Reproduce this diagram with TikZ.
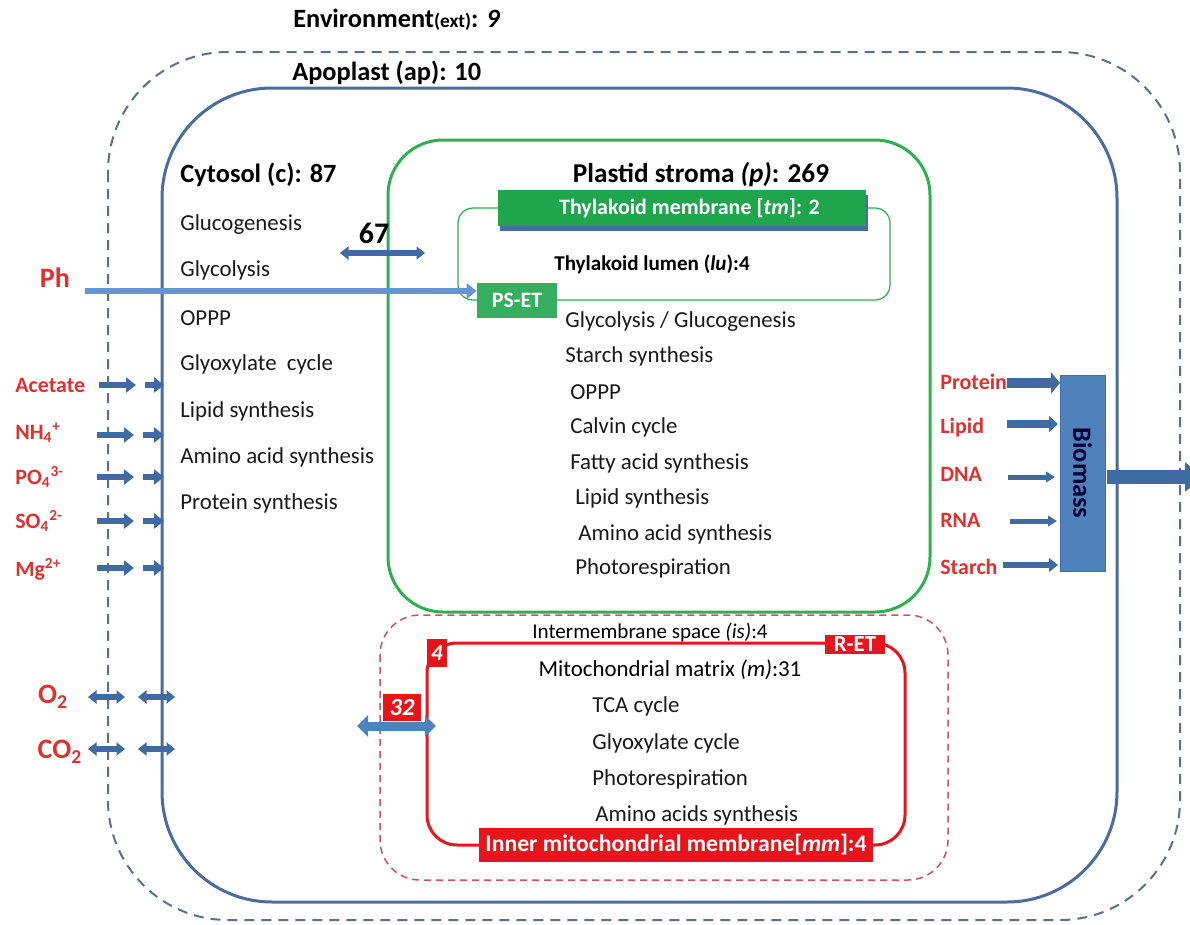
\documentclass[tikz,border=0pt]{standalone}
\usepackage{fontspec}
\setmainfont{Carlito}
\usepackage{tikz}
\usepackage{xcolor}
\definecolor{envGray}{HTML}{5B6F8F}
\definecolor{apoBlue}{HTML}{4A6C9E}
\definecolor{arrowBlue}{HTML}{3F6BA3}
\definecolor{phBlue}{HTML}{6495D6}
\definecolor{plastidGreen}{HTML}{2DB04E}
\definecolor{tmGreen}{HTML}{1FA64D}
\definecolor{mitoRed}{HTML}{E8141B}
\definecolor{mitoDash}{HTML}{D2505C}
\definecolor{labelRed}{HTML}{E2302E}
\definecolor{biomassBlue}{HTML}{4F81BD}
\usetikzlibrary{arrows.meta}

\tikzset{
  heading/.style={font=\fontsize{15}{18}\selectfont\bfseries, inner sep=0pt},
  subHeading/.style={font=\fontsize{12}{14}\selectfont\bfseries, inner sep=0pt},
  pathway/.style={font=\fontsize{13}{15}\selectfont, text=black!90, anchor=west, inner sep=0pt},
  inLabel/.style={font=\fontsize{12.5}{15}\selectfont\bfseries, text=labelRed, anchor=west, inner sep=0pt},
  gasLabel/.style={font=\fontsize{16}{18}\selectfont\bfseries, text=labelRed, inner sep=0pt},
  inArrow/.style={draw=arrowBlue, line width=0.13cm, -{Triangle[width=0.3cm,length=0.2cm]}},
  gasArrow/.style={draw=arrowBlue, line width=0.11cm, {Triangle[width=0.26cm,length=0.17cm]}-{Triangle[width=0.26cm,length=0.17cm]}},
  outArrow/.style={draw=arrowBlue, -{Triangle[width=#1*2.1,length=0.18cm]}, line width=#1},
  colourBox/.style={fill=#1, draw=none, text=white, inner sep=0pt, font=\fontsize{12.5}{14}\selectfont\bfseries}
}

\begin{document}
\begin{tikzpicture}
  \useasboundingbox (0cm,0cm) rectangle (23.8cm,-18.5cm);

  \draw[envGray, line width=0.04cm, dash pattern=on 0.2cm off 0.14cm, rounded corners=2.4cm] (2.16cm,-1.04cm) rectangle (23.6cm,-18.4cm);
  \draw[apoBlue, line width=0.06cm, rounded corners=2.2cm] (3.24cm,-1.76cm) rectangle (22.34cm,-18.04cm);
  \node[heading, anchor=west] (envHead) at (5.86cm,-0.4cm) {Environment{\fontsize{11}{13}\selectfont(ext)}: \textit{9}};
  \node[heading, anchor=west] (apoHead) at (5.84cm,-1.46cm) {Apoplast (ap): 10};

  \node[heading, anchor=west] (cytosolHead) at (3.6cm,-3.5cm) {Cytosol (c): 87};
  \node[pathway] (glucoC) at (3.6cm,-4.5cm) {Glucogenesis};
  \node[pathway] (glycoC) at (3.6cm,-5.4cm) {Glycolysis};
  \node[pathway] (opppC) at (3.6cm,-6.36cm) {OPPP};
  \node[pathway] (glyoxC) at (3.6cm,-7.28cm) {Glyoxylate\ \ cycle};
  \node[pathway] (lipidC) at (3.6cm,-8.22cm) {Lipid synthesis};
  \node[pathway] (aminoC) at (3.6cm,-9.14cm) {Amino acid synthesis};
  \node[pathway] (proteinC) at (3.6cm,-10.06cm) {Protein synthesis};

  \draw[plastidGreen, line width=0.06cm, rounded corners=1.1cm] (7.76cm,-2.8cm) rectangle (18.6cm,-12.24cm);
  \node[heading, font=\fontsize{15.5}{18}\selectfont\bfseries] (plastidHead) at (14.02cm,-3.5cm) {Plastid stroma \textit{(p)}: 269};
  \draw[plastidGreen, line width=0.025cm, rounded corners=0.3cm] (9.16cm,-4.16cm) rectangle (17.8cm,-6.0cm);
  \fill[apoBlue] (10.0cm,-3.9cm) rectangle (17.36cm,-4.62cm);
  \node[colourBox=tmGreen, minimum width=7.36cm, minimum height=0.72cm] (tmBox) at (13.64cm,-4.16cm) {\hspace{0.3cm}Thylakoid membrane [\textit{tm}]: 2};
  \node[subHeading] (luHead) at (13.04cm,-5.28cm) {Thylakoid lumen (\textit{lu}):4};
  \node[colourBox=tmGreen!90!white, minimum width=1.6cm, minimum height=0.7cm] (psEt) at (10.34cm,-6.01cm) {PS-ET};
  \node[pathway] (glycoP) at (11.3cm,-6.44cm) {Glycolysis / Glucogenesis};
  \node[pathway] (starchP) at (11.3cm,-7.12cm) {Starch synthesis};
  \node[pathway] (opppP) at (11.4cm,-7.84cm) {OPPP};
  \node[pathway] (calvinP) at (11.4cm,-8.54cm) {Calvin cycle};
  \node[pathway] (fattyP) at (11.4cm,-9.26cm) {Fatty acid synthesis};
  \node[pathway] (lipidP) at (11.5cm,-9.96cm) {Lipid synthesis};
  \node[pathway] (aminoP) at (11.56cm,-10.68cm) {Amino acid synthesis};
  \node[pathway] (photoP) at (11.5cm,-11.36cm) {Photorespiration};

  \node[gasLabel] (phLabel) at (1.1cm,-5.56cm) {Ph};
  \coordinate (phStart) at (1.7cm,-5.82cm);
  \draw[draw=phBlue, line width=0.12cm, -{Triangle[width=0.3cm,length=0.2cm]}] (phStart) -- (phStart -| psEt.west);

  \node[font=\fontsize{17}{20}\selectfont\bfseries, inner sep=0pt] (exchLabel) at (7.48cm,-4.66cm) {67};
  \coordinate (exchLeft) at (6.8cm,-5.06cm);
  \coordinate (exchRight) at (8.5cm,-5.06cm);
  \draw[gasArrow, line width=0.12cm] (exchLeft) -- (exchRight);

  \node[inLabel] (acetate) at (0.3cm,-7.7cm) {Acetate};
  \node[inLabel] (ammonium) at (0.3cm,-8.66cm) {NH\textsubscript{4}\textsuperscript{+}};
  \node[inLabel] (phosphate) at (0.3cm,-9.54cm) {PO\textsubscript{4}\textsuperscript{3-}};
  \node[inLabel] (sulfate) at (0.3cm,-10.42cm) {SO\textsubscript{4}\textsuperscript{2-}};
  \node[inLabel] (magnesium) at (0.3cm,-11.38cm) {Mg\textsuperscript{2+}};
  \coordinate (acetateA) at (1.98cm,-7.7cm);
  \coordinate (acetateB) at (2.72cm,-7.7cm);
  \coordinate (acetateC) at (2.9cm,-7.7cm);
  \coordinate (acetateD) at (3.28cm,-7.7cm);
  \draw[inArrow] (acetateA) -- (acetateB);
  \draw[inArrow] (acetateC) -- (acetateD);
  \coordinate (ammoniumA) at (1.94cm,-8.7cm);
  \coordinate (ammoniumB) at (2.68cm,-8.7cm);
  \coordinate (ammoniumC) at (2.86cm,-8.7cm);
  \coordinate (ammoniumD) at (3.28cm,-8.7cm);
  \draw[inArrow] (ammoniumA) -- (ammoniumB);
  \draw[inArrow] (ammoniumC) -- (ammoniumD);
  \coordinate (phosphateA) at (1.94cm,-9.54cm);
  \coordinate (phosphateB) at (2.68cm,-9.54cm);
  \coordinate (phosphateC) at (2.86cm,-9.54cm);
  \coordinate (phosphateD) at (3.28cm,-9.54cm);
  \draw[inArrow] (phosphateA) -- (phosphateB);
  \draw[inArrow] (phosphateC) -- (phosphateD);
  \coordinate (sulfateA) at (1.94cm,-10.42cm);
  \coordinate (sulfateB) at (2.68cm,-10.42cm);
  \coordinate (sulfateC) at (2.86cm,-10.42cm);
  \coordinate (sulfateD) at (3.28cm,-10.42cm);
  \draw[inArrow] (sulfateA) -- (sulfateB);
  \draw[inArrow] (sulfateC) -- (sulfateD);
  \coordinate (magnesiumA) at (1.94cm,-11.36cm);
  \coordinate (magnesiumB) at (2.68cm,-11.36cm);
  \coordinate (magnesiumC) at (2.86cm,-11.36cm);
  \coordinate (magnesiumD) at (3.28cm,-11.36cm);
  \draw[inArrow] (magnesiumA) -- (magnesiumB);
  \draw[inArrow] (magnesiumC) -- (magnesiumD);

  \node[gasLabel] (oxygen) at (1.06cm,-13.94cm) {O\textsubscript{2}};
  \node[gasLabel] (carbon) at (1.2cm,-15.04cm) {CO\textsubscript{2}};
  \coordinate (oxygenA) at (1.76cm,-13.94cm);
  \coordinate (oxygenB) at (2.5cm,-13.94cm);
  \coordinate (oxygenC) at (2.76cm,-13.94cm);
  \coordinate (oxygenD) at (3.5cm,-13.94cm);
  \draw[gasArrow] (oxygenA) -- (oxygenB);
  \draw[gasArrow] (oxygenC) -- (oxygenD);
  \coordinate (carbonA) at (1.76cm,-14.98cm);
  \coordinate (carbonB) at (2.5cm,-14.98cm);
  \coordinate (carbonC) at (2.76cm,-14.98cm);
  \coordinate (carbonD) at (3.5cm,-14.98cm);
  \draw[gasArrow] (carbonA) -- (carbonB);
  \draw[gasArrow] (carbonC) -- (carbonD);

  \draw[mitoDash, line width=0.03cm, dash pattern=on 0.14cm off 0.1cm, rounded corners=0.8cm] (7.6cm,-12.3cm) rectangle (18.96cm,-17.6cm);
  \draw[mitoRed, line width=0.06cm, rounded corners=0.6cm] (8.54cm,-12.86cm) rectangle (18.1cm,-16.9cm);
  \node[colourBox=mitoRed, minimum width=0.4cm, minimum height=0.56cm, font=\fontsize{13}{15}\selectfont\bfseries\itshape] (isBox) at (8.74cm,-13.06cm) {4};
  \node[colourBox=mitoRed, minimum width=1.2cm, minimum height=0.38cm, font=\fontsize{13}{15}\selectfont\bfseries] (rEt) at (17.1cm,-12.89cm) {R-ET};
  \node[colourBox=mitoRed, minimum width=7.88cm, minimum height=0.68cm, font=\fontsize{13.5}{15}\selectfont\bfseries] (mmBox) at (13.52cm,-16.9cm) {Inner mitochondrial membrane[\textit{mm}]:4};
  \node[colourBox=mitoRed, minimum width=0.76cm, minimum height=0.54cm, font=\fontsize{14}{16}\selectfont\bfseries\itshape] (mitoExch) at (8.04cm,-14.15cm) {32};
  \coordinate (mitoLeft) at (7.14cm,-14.52cm);
  \coordinate (mitoRight) at (8.72cm,-14.52cm);
  \draw[draw=biomassBlue, line width=0.18cm, {Triangle[width=0.42cm,length=0.22cm]}-{Triangle[width=0.42cm,length=0.22cm]}] (mitoLeft) -- (mitoRight);
  \node[subHeading, font=\fontsize{12}{14}\selectfont] (isHead) at (13.0cm,-12.64cm) {Intermembrane space \textit{(is)}:4};
  \node[subHeading, font=\fontsize{13}{15}\selectfont] (mHead) at (13.4cm,-13.4cm) {Mitochondrial matrix \textit{(m)}:31};
  \node[pathway] (tcaM) at (11.84cm,-14.12cm) {TCA cycle};
  \node[pathway] (glyoxM) at (11.84cm,-14.86cm) {Glyoxylate cycle};
  \node[pathway] (photoM) at (11.84cm,-15.58cm) {Photorespiration};
  \node[pathway] (aminoM) at (11.9cm,-16.3cm) {Amino acids synthesis};

  \filldraw[fill=biomassBlue, draw=biomassBlue!85!black] (21.2cm,-7.5cm) rectangle (22.1cm,-11.42cm);
  \node[rotate=-90, font=\fontsize{15}{18}\selectfont\bfseries, text=black!80!blue, inner sep=0pt] (biomass) at (21.65cm,-9.46cm) {Biomass};
  \node[inLabel] (proteinOut) at (18.8cm,-7.64cm) {Protein};
  \node[inLabel] (lipidOut) at (18.8cm,-8.56cm) {Lipid};
  \node[inLabel] (dnaOut) at (18.8cm,-9.48cm) {DNA};
  \node[inLabel] (rnaOut) at (18.8cm,-10.4cm) {RNA};
  \node[inLabel] (starchOut) at (18.8cm,-11.34cm) {Starch};
  \coordinate (proteinA) at (20.14cm,-7.66cm);
  \coordinate (proteinB) at (21.2cm,-7.66cm);
  \coordinate (lipidA) at (20.14cm,-8.48cm);
  \coordinate (lipidB) at (21.16cm,-8.48cm);
  \coordinate (dnaA) at (20.16cm,-9.54cm);
  \coordinate (dnaB) at (21.1cm,-9.54cm);
  \coordinate (rnaA) at (20.2cm,-10.42cm);
  \coordinate (rnaB) at (21.14cm,-10.42cm);
  \coordinate (starchA) at (20.06cm,-11.3cm);
  \coordinate (starchB) at (21.16cm,-11.3cm);
  \draw[outArrow=0.2cm] (proteinA) -- (proteinB);
  \draw[outArrow=0.15cm] (lipidA) -- (lipidB);
  \draw[outArrow=0.1cm] (dnaA) -- (dnaB);
  \draw[outArrow=0.1cm] (rnaA) -- (rnaB);
  \draw[outArrow=0.13cm] (starchA) -- (starchB);
  \coordinate (biomassOut) at (22.14cm,-9.54cm);
  \coordinate (exportEnd) at (24.1cm,-9.54cm);
  \draw[draw=arrowBlue, line width=0.28cm, -{Triangle[width=0.56cm,length=0.4cm]}] (biomassOut) -- (exportEnd);
\end{tikzpicture}
\end{document}
